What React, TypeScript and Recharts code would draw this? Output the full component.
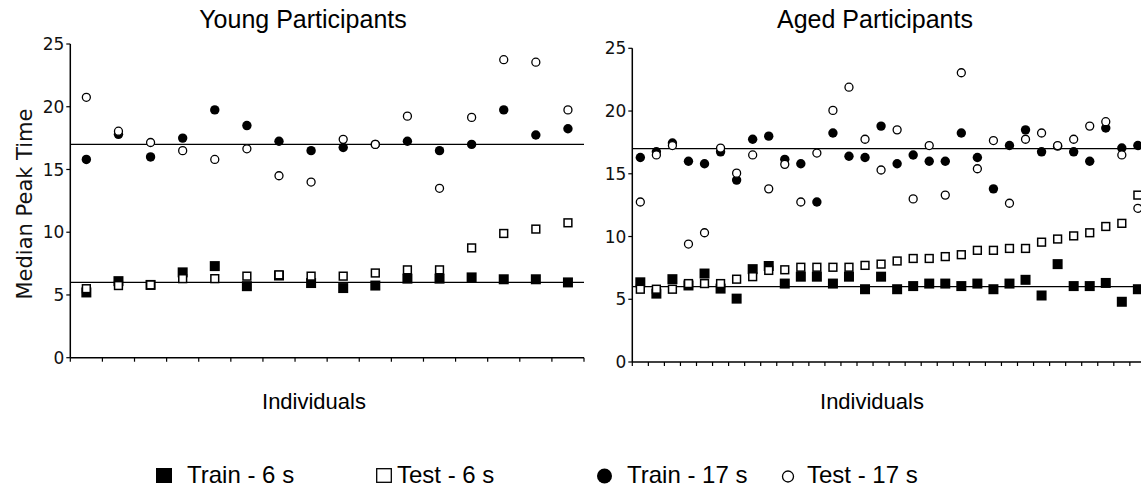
import React from "react";
import { ScatterChart, Scatter, XAxis, YAxis, ReferenceLine } from "recharts";

// Young participants, one value per individual
const youngTrain6 = [5.2, 6.1, 5.8, 6.8, 7.3, 5.7, 6.55, 5.95, 5.55, 5.75, 6.3, 6.3, 6.4, 6.25, 6.25, 6.0];
const youngTest6 = [5.5, 5.75, 5.8, 6.3, 6.3, 6.5, 6.6, 6.5, 6.5, 6.75, 7.0, 7.0, 8.75, 9.9, 10.25, 10.75];
const youngTrain17 = [15.8, 17.8, 16.0, 17.5, 19.75, 18.5, 17.25, 16.5, 16.75, 17.0, 17.25, 16.5, 17.0, 19.75, 17.75, 18.25];
const youngTest17 = [20.75, 18.05, 17.15, 16.5, 15.8, 16.65, 14.5, 14.0, 17.4, 17.0, 19.25, 13.5, 19.15, 23.75, 23.55, 19.75];

// Aged participants
const agedTrain6 = [6.35, 5.45, 6.6, 6.1, 7.05, 5.85, 5.05, 7.4, 7.65, 6.25, 6.8, 6.8, 6.25, 6.8, 5.8, 6.8, 5.8, 6.05, 6.25, 6.25, 6.05, 6.25, 5.8, 6.25, 6.55, 5.3, 7.8, 6.05, 6.05, 6.3, 4.8, 5.8];
const agedTest6 = [5.8, 5.8, 5.8, 6.25, 6.25, 6.25, 6.6, 6.8, 7.3, 7.35, 7.55, 7.55, 7.55, 7.55, 7.7, 7.8, 8.05, 8.25, 8.25, 8.4, 8.55, 8.9, 8.9, 9.05, 9.05, 9.55, 9.8, 10.05, 10.3, 10.8, 11.05, 13.3];
const agedTrain17 = [16.3, 16.75, 17.45, 16.0, 15.8, 16.75, 14.5, 17.75, 18.0, 16.15, 15.8, 12.75, 18.25, 16.4, 16.3, 18.8, 15.8, 16.5, 16.0, 16.0, 18.25, 16.3, 13.8, 17.25, 18.5, 16.75, 17.2, 16.75, 16.0, 18.65, 17.05, 17.25];
const agedTest17 = [12.75, 16.5, 17.25, 9.4, 10.3, 17.05, 15.05, 16.5, 13.8, 15.75, 12.75, 16.65, 20.05, 21.9, 17.75, 15.3, 18.5, 13.0, 17.25, 13.3, 23.05, 15.4, 17.65, 12.65, 17.75, 18.25, 17.25, 17.75, 18.8, 19.15, 16.5, 12.25];

const yTicks = [0, 5, 10, 15, 20, 25];
const targetLines = [6, 17];
const legendLabels = ["Train - 6 s", "Test - 6 s", "Train - 17 s", "Test - 17 s"];

const toPoints = (vals: number[]) => vals.map((v, i) => ({ x: i + 1, y: v }));

const FilledSquare = (p: any) => (
  <rect x={p.cx - 5} y={p.cy - 5} width={10} height={10} fill="#000" />
);
const OpenSquare = (p: any) => (
  <rect x={p.cx - 3.9} y={p.cy - 3.9} width={7.8} height={7.8} fill="#fff" stroke="#000" strokeWidth={1.5} />
);
const FilledCircle = (p: any) => <circle cx={p.cx} cy={p.cy} r={4.7} fill="#000" />;
const OpenCircle = (p: any) => (
  <circle cx={p.cx} cy={p.cy} r={4} fill="#fff" stroke="#000" strokeWidth={1.3} />
);

interface PanelProps {
  train6: number[];
  test6: number[];
  train17: number[];
  test17: number[];
  left: number;
  width: number;
  yAxisWidth: number;
  top: number;
  right: number;
  bottom: number;
  xMax: number;
}

function Panel({ train6, test6, train17, test17, left, width, yAxisWidth, top, right, bottom, xMax }: PanelProps) {
  const n = Math.ceil(xMax);
  const xTicks = Array.from({ length: n }, (_, i) => i + 0.5);
  return (
    <div style={{ position: "absolute", left, top: 0 }}>
      <ScatterChart width={width} height={400} margin={{ top, right, left: 0, bottom }}>
        <XAxis
          type="number"
          dataKey="x"
          domain={[0.5, xMax]}
          ticks={xTicks}
          interval={0}
          allowDataOverflow
          tickFormatter={() => ""}
          tickSize={4}
          height={30}
          axisLine={{ stroke: "#000", strokeWidth: 1.5 }}
          tickLine={{ stroke: "#000", strokeWidth: 1.2 }}
        />
        <YAxis
          type="number"
          dataKey="y"
          domain={[0, 25]}
          ticks={yTicks}
          interval={0}
          width={yAxisWidth}
          tickSize={4}
          tick={{ fill: "#111", fontSize: 17, fontFamily: "DejaVu Sans, Verdana, sans-serif" }}
          axisLine={{ stroke: "#000", strokeWidth: 1.5 }}
          tickLine={{ stroke: "#000", strokeWidth: 1.2 }}
        />
        {targetLines.map((v) => (
          <ReferenceLine key={v} y={v} stroke="#000" strokeWidth={1.3} />
        ))}
        <Scatter data={toPoints(train6)} shape={FilledSquare} isAnimationActive={false} />
        <Scatter data={toPoints(train17)} shape={FilledCircle} isAnimationActive={false} />
        <Scatter data={toPoints(test6)} shape={OpenSquare} isAnimationActive={false} />
        <Scatter data={toPoints(test17)} shape={OpenCircle} isAnimationActive={false} />
      </ScatterChart>
    </div>
  );
}

const arial = "Liberation Sans, Arial, sans-serif";

export default function App() {
  const legendX = [156, 376, 597, 782];
  const legendTextX = [187, 397, 627, 807];
  return (
    <div style={{ position: "absolute", left: 0, top: 0, width: 1141, height: 488, overflow: "hidden", background: "#fff" }}>
      <Panel
        train6={youngTrain6}
        test6={youngTest6}
        train17={youngTrain17}
        test17={youngTest17}
        left={0}
        width={600}
        yAxisWidth={70.3}
        top={44}
        right={16}
        bottom={12.3}
        xMax={youngTrain6.length + 0.5}
      />
      <Panel
        train6={agedTrain6}
        test6={agedTest6}
        train17={agedTrain17}
        test17={agedTest17}
        left={560}
        width={600}
        yAxisWidth={72.3}
        top={48.3}
        right={14.1}
        bottom={8}
        xMax={agedTrain6.length + 0.5}
      />
      <svg width={1141} height={488} style={{ position: "absolute", left: 0, top: 0, pointerEvents: "none" }}>
        <text x={303} y={28} textAnchor="middle" fontSize={25} fontFamily={arial} fill="#000">
          Young Participants
        </text>
        <text x={875} y={28} textAnchor="middle" fontSize={25} fontFamily={arial} fill="#000">
          Aged Participants
        </text>
        <text
          x={32}
          y={204}
          transform="rotate(-90 32 204)"
          textAnchor="middle"
          fontSize={21}
          fontFamily="DejaVu Sans, Verdana, sans-serif"
          fill="#111"
        >
          Median Peak Time
        </text>
        <text x={314} y={409} textAnchor="middle" fontSize={22} fontFamily={arial} fill="#000">
          Individuals
        </text>
        <text x={872} y={409} textAnchor="middle" fontSize={22} fontFamily={arial} fill="#000">
          Individuals
        </text>
        <rect x={legendX[0]} y={468} width={16} height={15} fill="#000" />
        <rect x={legendX[1] + 0.7} y={468.7} width={14.6} height={13.6} fill="#fff" stroke="#000" strokeWidth={1.3} />
        <circle cx={legendX[2] + 7.5} cy={476} r={7.5} fill="#000" />
        <circle cx={legendX[3] + 6} cy={476.5} r={5.5} fill="#fff" stroke="#000" strokeWidth={1.3} />
        {legendLabels.map((l, i) => (
          <text key={l} x={legendTextX[i]} y={483} fontSize={24} fontFamily={arial} fill="#000">
            {l}
          </text>
        ))}
      </svg>
    </div>
  );
}
